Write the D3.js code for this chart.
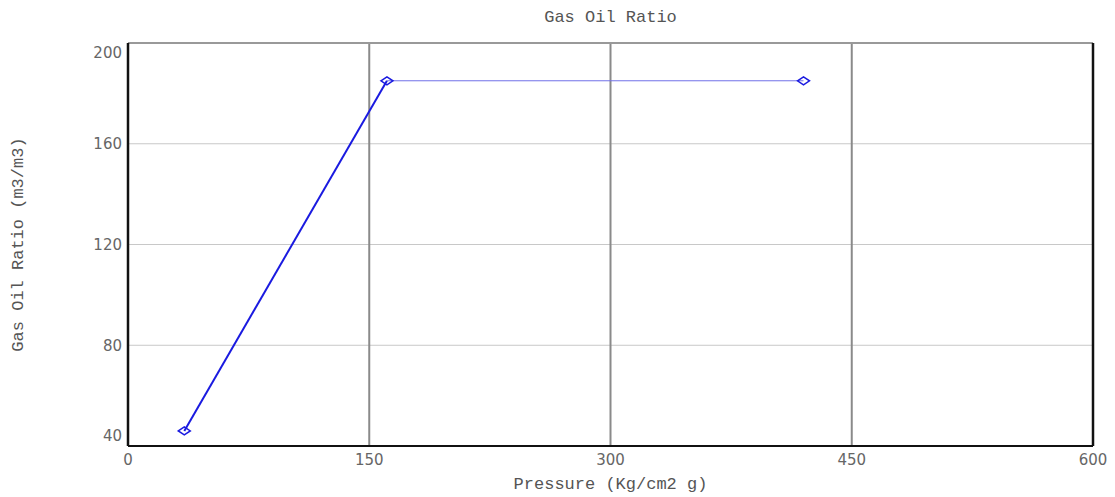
<!DOCTYPE html>
<html>
<head>
<meta charset="utf-8">
<script src="https://cdn.jsdelivr.net/npm/d3@7"></script>
<style>
    body { margin: 0; background: #fff; }
    .tick-label { font-family: "DejaVu Sans", Verdana, sans-serif; font-size: 15px; fill: #666; }
    .title { font-family: "Liberation Mono", "Courier New", monospace; font-size: 17px; fill: #555; }
</style>
</head>
<body>
<svg id="chart" width="1115" height="497"></svg>
<script>
/**
 * Gas oil ratio vs pressure.
 */
const pressure = [35, 161, 420],
    gor = [46, 185, 185],
    xTicks = [0, 150, 300, 450, 600],
    yTicks = [40, 80, 120, 160, 200];

const chartTitle = 'Gas Oil Ratio',
    xTitle = 'Pressure (Kg/cm2 g)',
    yTitle = 'Gas Oil Ratio (m3/m3)';

const margin = { top: 43, right: 22, bottom: 51, left: 128 },
    visWidth = 1115, visHeight = 497,
    width = visWidth - margin.left - margin.right,
    height = visHeight - margin.top - margin.bottom;

const points = pressure.map((p, i) => ({ x: p, y: gor[i] }));

const svg = d3.select('#chart');
const g = svg.append('g').attr('transform', 'translate(' + margin.left + ',' + margin.top + ')');

const xScale = d3.scaleLinear().domain([0, 600]).range([0, width]),
    yScale = d3.scaleLinear().domain([40, 200]).range([height, 0]);

// Horizontal grid
g.append('g').selectAll('line')
    .data(yTicks.slice(1, -1))
    .join('line')
    .attr('x1', 0).attr('x2', width)
    .attr('y1', d => yScale(d)).attr('y2', d => yScale(d))
    .attr('stroke', '#c8c8c8').attr('stroke-width', 1);

// Vertical grid
g.append('g').selectAll('line')
    .data(xTicks.slice(1, -1))
    .join('line')
    .attr('x1', d => xScale(d)).attr('x2', d => xScale(d))
    .attr('y1', 0).attr('y2', height)
    .attr('stroke', '#8a8a8a').attr('stroke-width', 2);

// Frame
g.append('line').attr('x1', 0).attr('x2', width).attr('y1', 0).attr('y2', 0)
    .attr('stroke', '#999').attr('stroke-width', 2);
g.append('line').attr('x1', 0).attr('x2', width).attr('y1', height).attr('y2', height)
    .attr('stroke', '#111').attr('stroke-width', 2);
g.append('line').attr('x1', 0).attr('x2', 0).attr('y1', 0).attr('y2', height)
    .attr('stroke', '#111').attr('stroke-width', 2.5);
g.append('line').attr('x1', width).attr('x2', width).attr('y1', 0).attr('y2', height)
    .attr('stroke', '#111').attr('stroke-width', 2.5);

// Tick labels
g.append('g').selectAll('text')
    .data(xTicks)
    .join('text')
    .attr('class', 'tick-label')
    .attr('x', d => xScale(d))
    .attr('y', height + 19)
    .attr('text-anchor', 'middle')
    .text(d => d);

g.append('g').selectAll('text')
    .data(yTicks)
    .join('text')
    .attr('class', 'tick-label')
    .attr('x', -6)
    .attr('y', d => Math.min(Math.max(yScale(d), 10), height - 10))
    .attr('dy', '0.35em')
    .attr('text-anchor', 'end')
    .text(d => d);

// Line segments: first rising segment is bold, the plateau is thin
const line = d3.line().x(d => xScale(d.x)).y(d => yScale(d.y));
g.append('path')
    .attr('d', line(points.slice(0, 2)))
    .attr('fill', 'none').attr('stroke', '#1a1ae0').attr('stroke-width', 2);
g.append('path')
    .attr('d', line(points.slice(1)))
    .attr('fill', 'none').attr('stroke', '#7070e8').attr('stroke-width', 1);

// Diamond markers
g.append('g').selectAll('path')
    .data(points)
    .join('path')
    .attr('transform', d => 'translate(' + xScale(d.x) + ',' + yScale(d.y) + ')')
    .attr('d', 'M-6,0L0,-4L6,0L0,4Z')
    .attr('fill', 'none').attr('stroke', '#1a1ae0').attr('stroke-width', 1.5);

// Titles
svg.append('text').attr('class', 'title')
    .attr('x', margin.left + width / 2).attr('y', 22)
    .attr('text-anchor', 'middle').text(chartTitle);

svg.append('text').attr('class', 'title')
    .attr('x', margin.left + width / 2).attr('y', 489)
    .attr('text-anchor', 'middle').text(xTitle);

svg.append('text').attr('class', 'title')
    .attr('transform', 'translate(23,' + (margin.top + height / 2) + ') rotate(-90)')
    .attr('text-anchor', 'middle').text(yTitle);
</script>
</body>
</html>
